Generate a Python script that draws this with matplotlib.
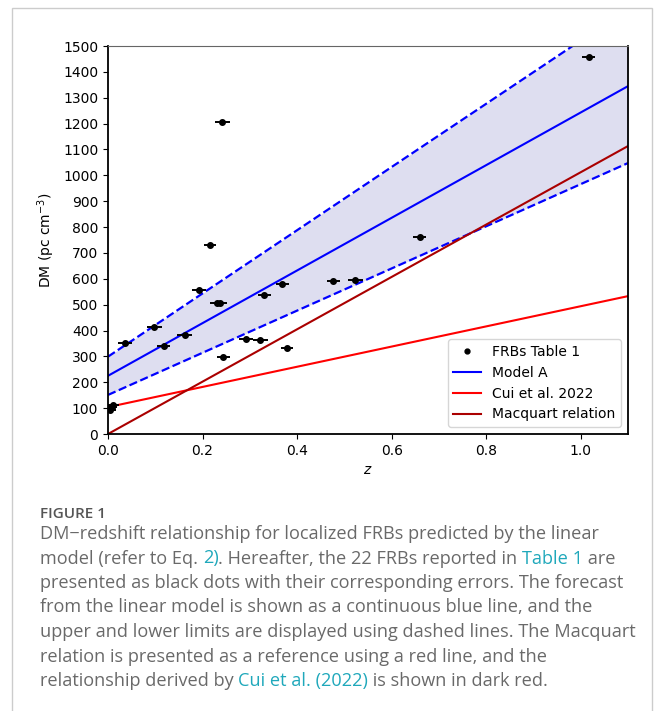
import numpy as np
import matplotlib
matplotlib.use("Agg")
import matplotlib.pyplot as plt
from matplotlib.patches import Rectangle
from matplotlib.lines import Line2D

# ── 数据 ──
z_frb = [0.0039, 0.008, 0.011, 0.036, 0.098, 0.118, 0.162, 0.192, 0.216, 0.231,
         0.237, 0.242, 0.244, 0.292, 0.322, 0.331, 0.369, 0.378, 0.477, 0.523,
         0.659, 1.017]
dm_frb = [92, 105, 114, 350, 415, 341, 381, 558, 730, 508,
          505, 1206, 299, 366, 363, 537, 580, 334, 591, 594,
          761, 1457]
z_err = [0.012, 0.012, 0.012, 0.014, 0.016, 0.014, 0.015, 0.015, 0.012, 0.015,
         0.015, 0.016, 0.014, 0.015, 0.016, 0.014, 0.014, 0.013, 0.014, 0.016,
         0.013, 0.014]
dm_err = [4] * len(z_frb)

# 直线: DM = a + b z
model_a = (225, 1018)
model_upper = (299, 1222)
model_lower = (151, 815)
cui_2022 = (104, 390)
macquart = (0, 1012)

z_line = np.array([0.0, 1.1])

caption_title = "FIGURE 1"
caption_lines = [
    [("DM\u2212redshift relationship for localized FRBs predicted by the linear", "g")],
    [("model (refer to Eq. ", "g"), ("2)", "c"),
     (". Hereafter, the 22 FRBs reported in ", "g"), ("Table 1", "c"), (" are", "g")],
    [("presented as black dots with their corresponding errors. The forecast", "g")],
    [("from the linear model is shown as a continuous blue line, and the", "g")],
    [("upper and lower limits are displayed using dashed lines. The Macquart", "g")],
    [("relation is presented as a reference using a red line, and the", "g")],
    [("relationship derived by ", "g"), ("Cui et al. (2022)", "c"),
     (" is shown in dark red.", "g")],
]
text_colors = {"g": "#696969", "c": "#1fa8bb"}


def line(p):
    return p[0] + p[1] * z_line


W, H = 654, 711
fig = plt.figure(figsize=(W / 100, H / 100), dpi=100)

# 外框
fig.patches.append(Rectangle((12 / W, -0.05), 640 / W, 1.05 - 8 / H,
                             transform=fig.transFigure, fill=False,
                             edgecolor="#cccccc", linewidth=1.0))

ax = fig.add_axes([108 / W, 1 - 434 / H, 520 / W, 388 / H])

ax.fill_between(z_line, line(model_lower), line(model_upper),
                color="#dedef0", linewidth=0)
ax.plot(z_line, line(model_upper), "--", color="blue", linewidth=1.6)
ax.plot(z_line, line(model_lower), "--", color="blue", linewidth=1.6)
ax.errorbar(z_frb, dm_frb, xerr=z_err, yerr=dm_err, fmt="o", color="black",
            markersize=4, elinewidth=1.4, capsize=0, zorder=5)
ax.plot(z_line, line(model_a), color="blue", linewidth=1.5)
ax.plot(z_line, line(cui_2022), color="red", linewidth=1.5)
ax.plot(z_line, line(macquart), color="#aa0000", linewidth=1.5)

ax.set_xlim(0, 1.1)
ax.set_ylim(0, 1500)
ax.set_xticks(np.arange(0, 1.01, 0.2))
ax.set_yticks(np.arange(0, 1501, 100))
ax.set_xlabel("$z$", fontsize=10)
ax.set_ylabel("DM (pc cm$^{-3}$)", fontsize=10)
ax.tick_params(labelsize=10)
for s in ["left", "bottom", "right"]:
    ax.spines[s].set_linewidth(1.3)
ax.spines["top"].set_color("#666666")

handles = [
    Line2D([], [], marker="o", markersize=3.5, linestyle="none", color="black"),
    Line2D([], [], color="blue", linewidth=1.5),
    Line2D([], [], color="red", linewidth=1.5),
    Line2D([], [], color="#aa0000", linewidth=1.5),
]
labels = ["FRBs Table 1", "Model A", "Cui et al. 2022", "Macquart relation"]
ax.legend(handles, labels, loc="lower right", fontsize=10)

# ── 图注 ──
cap_font = ["Open Sans", "DejaVu Sans"]
fig.text(40 / W, 1 - 518 / H, caption_title, fontsize=11, fontweight="semibold",
         color="#555555", family=cap_font, va="baseline")
for i, parts in enumerate(caption_lines):
    yb = 1 - (539 + 24.5 * i) / H
    last = None
    for txt, c in parts:
        if last is None:
            last = fig.text(40 / W, yb, txt, fontsize=13.1, color=text_colors[c],
                            family=cap_font, va="baseline")
        else:
            last = ax.annotate(txt, xy=(1, 0), xycoords=last, va="bottom", ha="left",
                               fontsize=13.1, color=text_colors[c], family=cap_font,
                               annotation_clip=False)

fig.savefig("out.png", dpi=100)
